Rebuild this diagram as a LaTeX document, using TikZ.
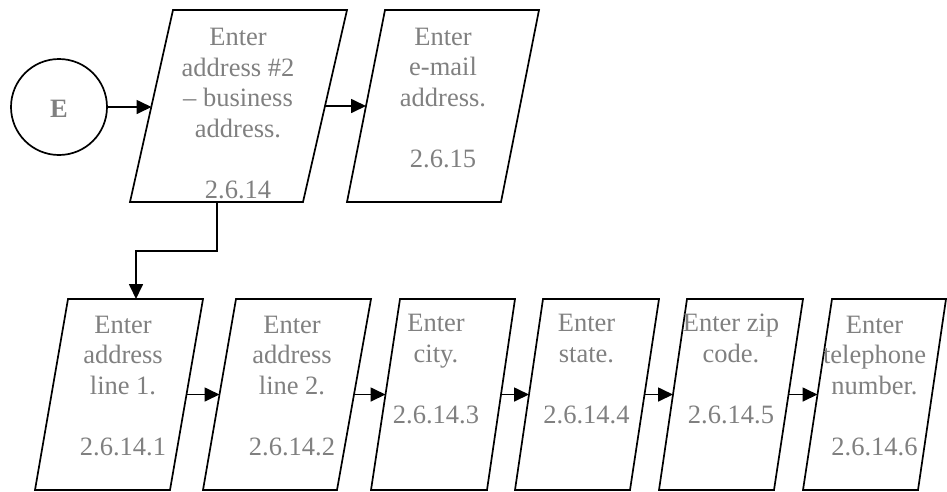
\documentclass[tikz,border=0pt]{standalone}
\usepackage{fontspec}
\setmainfont{Liberation Serif}
\usetikzlibrary{arrows.meta}
\definecolor{txtgray}{HTML}{808080}
\newcommand\parabox[7]{% name, TLx, TRx, BLx, BRx, top y, bottom y
  \draw[shapeline] (#2,#6) -- (#3,#6) -- (#5,#7) -- (#4,#7) -- cycle;
  \coordinate (#1-l) at ({(#2+#4)/2},{(#6+#7)/2});
  \coordinate (#1-r) at ({(#3+#5)/2},{(#6+#7)/2});
  \coordinate (#1-t) at ({(#2+#3)/2},#6);
}
\tikzset{
  shapeline/.style={line width=1.7pt, black},
  conn/.style={line width=1.7pt, -{Triangle[length=15pt,width=14pt]}},
  label/.style={text=txtgray, align=center, anchor=base, inner sep=0pt,
    font=\fontsize{26.5}{30.5}\selectfont},
}
\begin{document}
\begin{tikzpicture}[x=1pt,y=-1pt]
\useasboundingbox (0,0) rectangle (947,491);
% start circle
\node[circle, draw, line width=1.7pt, minimum size=96pt, inner sep=0pt] (E) at (59,107) {};
\node[text=txtgray, font=\fontsize{26.5}{30}\selectfont\bfseries] (Elab) at (59,109) {E};
% top row
\parabox{p1}{173}{347}{130}{303}{10}{202}
\parabox{p2}{385}{539}{347}{501}{10}{202}
% bottom row
\parabox{p3}{68}{203}{35}{170}{299}{490}
\parabox{p4}{236}{371}{203}{337}{299}{490}
\parabox{p5}{400}{515}{371}{487}{299}{490}
\parabox{p6}{543}{659}{515}{630}{299}{490}
\parabox{p7}{687}{803}{659}{774}{299}{490}
\parabox{p8}{832}{946}{803}{918}{299}{490}
% texts (anchored at the baseline of the last line)
\node[label] (t1) at (238,198) {Enter\\address \#2\\– business\\address.\\[30.5pt]2.6.14};
\node[label] (t2) at (443,167) {Enter\\e-mail\\address.\\[30.5pt]2.6.15};
\node[label] (t3) at (123,455) {Enter\\address\\line 1.\\[30.5pt]2.6.14.1};
\node[label] (t4) at (292,455) {Enter\\address\\line 2.\\[30.5pt]2.6.14.2};
\node[label] (t5) at (436,423) {Enter\\city.\\[30.5pt]2.6.14.3};
\node[label] (t6) at (586.5,423) {Enter\\state.\\[30.5pt]2.6.14.4};
\node[label] (t7) at (731,423) {Enter zip\\code.\\[30.5pt]2.6.14.5};
\node[label] (t8) at (874.5,455) {Enter\\telephone\\number.\\[30.5pt]2.6.14.6};
% connectors
\coordinate (p1b) at (217,202);
\draw[conn] (E.east |- 0,107) -- (p1-l |- 0,107);
\draw[conn] (p1-r) -- (p2-l);
\draw[conn] (p1b) -- (217,251) -- (136,251) -- (136,299);
\draw[conn] (p3-r) -- (p4-l);
\draw[conn] (p4-r) -- (p5-l);
\draw[conn] (p5-r) -- (p6-l);
\draw[conn] (p6-r) -- (p7-l);
\draw[conn] (p7-r) -- (p8-l);
\end{tikzpicture}
\end{document}
